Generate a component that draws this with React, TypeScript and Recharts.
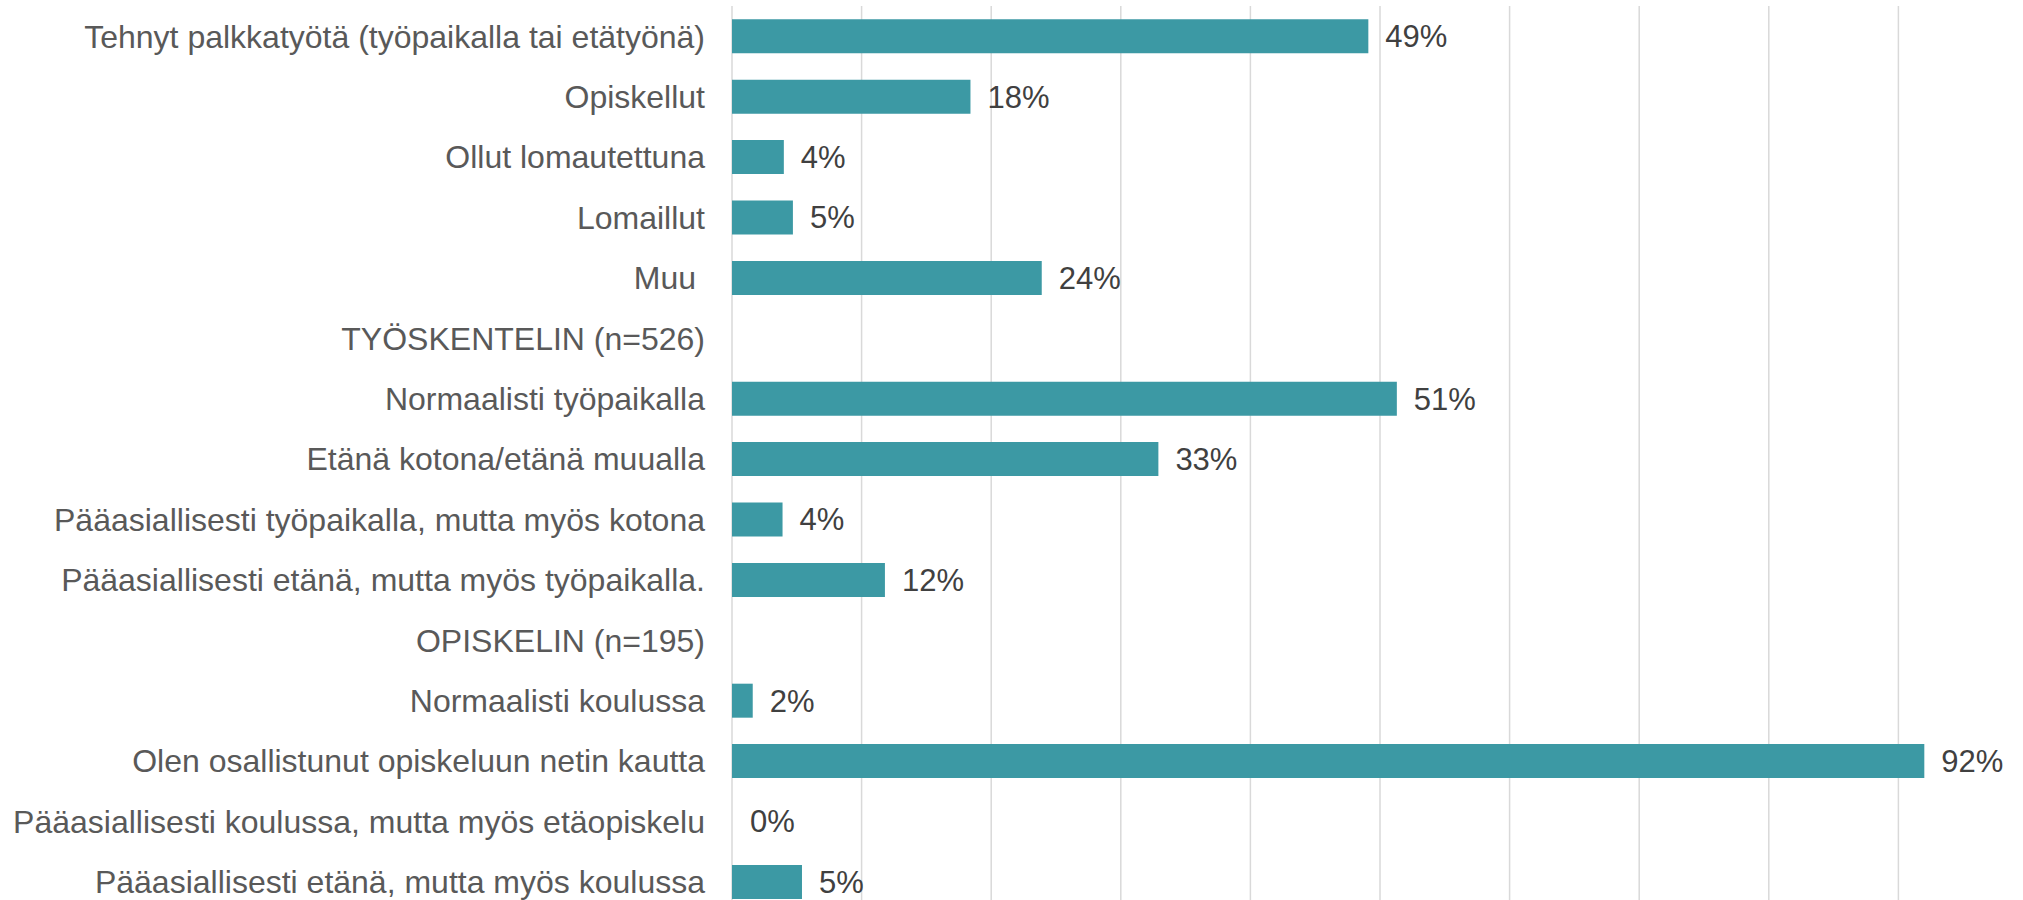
import { BarChart, Bar, XAxis, YAxis, CartesianGrid, LabelList, Cell } from "recharts";

// kategoriat (ylhäältä alas)
const categories = [
  "Tehnyt palkkatyötä (työpaikalla tai etätyönä)",
  "Opiskellut",
  "Ollut lomautettuna",
  "Lomaillut",
  "Muu\u00a0",
  "TYÖSKENTELIN (n=526)",
  "Normaalisti työpaikalla",
  "Etänä kotona/etänä muualla",
  "Pääasiallisesti työpaikalla, mutta myös kotona",
  "Pääasiallisesti etänä, mutta myös työpaikalla.",
  "OPISKELIN (n=195)",
  "Normaalisti koulussa",
  "Olen osallistunut opiskeluun netin kautta",
  "Pääasiallisesti koulussa, mutta myös etäopiskelu",
  "Pääasiallisesti etänä, mutta myös koulussa",
];

// osuudet prosentteina (otsikkoriveillä ei arvoa)
const shares: (number | null)[] = [49.1, 18.4, 4.0, 4.7, 23.9, null, 51.3, 32.9, 3.9, 11.8, null, 1.6, 92.0, 0, 5.4];

const xTicks = [0, 10, 20, 30, 40, 50, 60, 70, 80, 90];

const data = categories.map((name, i) => ({ name, value: shares[i] }));

const FONT = "'Liberation Sans', Arial, sans-serif";

export default function App() {
  return (
    <div
      style={{
        position: "fixed",
        left: 0,
        top: 0,
        width: 2023,
        height: 900,
        overflow: "hidden",
        background: "#ffffff",
        fontFamily: FONT,
      }}
    >
      <BarChart
        width={2028}
        height={912}
        data={data}
        layout="vertical"
        barCategoryGap="22%"
        margin={{ top: 6, right: 0, left: 0, bottom: 0 }}
      >
        <CartesianGrid horizontal={false} vertical={true} stroke="#d9d9d9" strokeWidth={1.5} />
        <XAxis type="number" domain={[0, 100]} ticks={xTicks} hide />
        <YAxis
          type="category"
          dataKey="name"
          width={732}
          axisLine={false}
          tickLine={false}
          tickSize={0}
          tickMargin={27}
          interval={0}
          tick={{ fill: "#595959", fontSize: 32, fontFamily: FONT }}
        />
        <Bar
          dataKey="value"
          fill="#3c99a4"
          isAnimationActive={false}
          minPointSize={(v: any) => (v === 0 ? 1 : 0)}
        >
          {data.map((d, i) => (
            <Cell key={i} fill={d.value === 0 ? "transparent" : "#3c99a4"} />
          ))}
          <LabelList
            dataKey="value"
            position="right"
            offset={17}
            fill="#404040"
            fontSize={31}
            fontFamily={FONT}
            formatter={(v: any) => (v === null || v === undefined ? "" : `${Math.round(v)}%`)}
          />
        </Bar>
      </BarChart>
    </div>
  );
}
